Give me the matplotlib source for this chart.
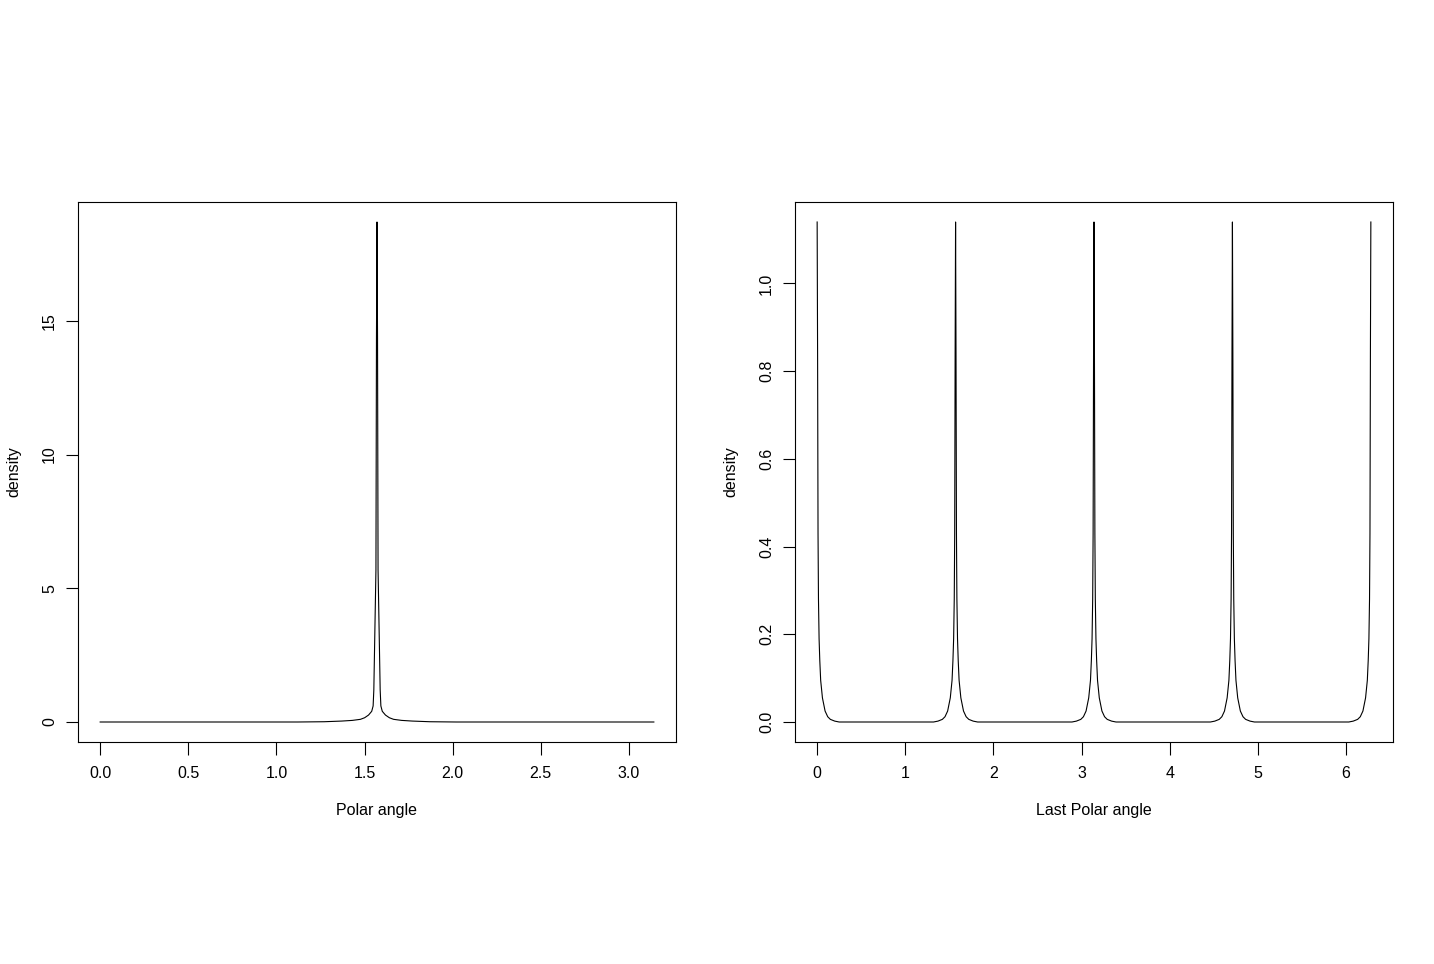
import numpy as np
import matplotlib
matplotlib.use('Agg')
import matplotlib.pyplot as plt

plt.rcParams['font.family'] = ['Liberation Sans', 'DejaVu Sans']

# left panel: one sharp peak at pi/2, shape read as offsets from the peak
left_center = np.pi / 2
left_offsets = [0, 0.003, 0.006, 0.014, 0.018, 0.022, 0.03, 0.048, 0.07, 0.094, 0.14, 0.2, 0.3, 0.45, np.pi / 2]
left_heights = [18.7, 14.4, 5.7, 2.7, 1.2, 0.6, 0.4, 0.26, 0.16, 0.1, 0.06, 0.035, 0.01, 0.0, 0.0]

# right panel: peaks at multiples of pi/2
right_centers = [0, np.pi / 2, np.pi, 3 * np.pi / 2, 2 * np.pi]
right_offsets = [0, 0.005, 0.01, 0.015, 0.022, 0.03, 0.04, 0.06, 0.09, 0.12, 0.15, 0.2, 0.25, np.pi / 4]
right_heights = [1.14, 0.84, 0.43, 0.28, 0.19, 0.14, 0.095, 0.055, 0.025, 0.012, 0.006, 0.002, 0.0, 0.0]

left_xticks = [0.0, 0.5, 1.0, 1.5, 2.0, 2.5, 3.0]
left_yticks = [0, 5, 10, 15]
right_xticks = [0, 1, 2, 3, 4, 5, 6]
right_yticks = [0.0, 0.2, 0.4, 0.6, 0.8, 1.0]


def peak(center, offsets, heights, lo, hi):
    off = np.array(offsets)
    h = np.array(heights)
    x = np.concatenate([center - off[::-1], center + off[1:]])
    y = np.concatenate([h[::-1], h[1:]])
    keep = (x >= lo - 1e-9) & (x <= hi + 1e-9)
    return x[keep], y[keep]


lx, ly = peak(left_center, left_offsets, left_heights, 0, np.pi)

rx, ry = [], []
for c in right_centers:
    px, py = peak(c, right_offsets, right_heights, 0, 2 * np.pi)
    rx.append(px)
    ry.append(py)
rx = np.concatenate(rx)
ry = np.concatenate(ry)
order = np.argsort(rx, kind='stable')
rx, ry = rx[order], ry[order]

fig = plt.figure(figsize=(14.34, 9.64), dpi=100)
ax1 = fig.add_axes([78 / 1434, 1 - 742 / 964, 598 / 1434, 540 / 964])
ax2 = fig.add_axes([795 / 1434, 1 - 742 / 964, 598 / 1434, 540 / 964])

fs = 11.5


def style(ax, x, y, xticks, yticks, xlabels, ylabels, xlabel):
    ax.plot(x, y, color='black', lw=0.8)
    xr = x.max() - x.min()
    ax.set_xlim(x.min() - 0.04 * xr, x.max() + 0.04 * xr)
    yr = y.max() - y.min()
    ax.set_ylim(y.min() - 0.04 * yr, y.max() + 0.04 * yr)
    ax.set_xticks(xticks)
    ax.set_xticklabels(xlabels, fontsize=fs)
    ax.set_yticks(yticks)
    ax.set_yticklabels(ylabels, fontsize=fs, rotation=90, va='center')
    ax.tick_params(direction='out', length=9, width=0.8)
    ax.tick_params(axis='x', pad=8)
    ax.tick_params(axis='y', pad=6)
    for s in ax.spines.values():
        s.set_linewidth(0.8)
    ax.set_xlabel(xlabel, fontsize=fs, va='center')
    ax.xaxis.set_label_coords(0.5, -68 / 540)
    ax.set_ylabel('density', fontsize=fs, va='center')
    ax.yaxis.set_label_coords(-64 / 598, 0.5)


style(ax1, lx, ly, left_xticks, left_yticks,
      ['%.1f' % v for v in left_xticks], [str(v) for v in left_yticks], 'Polar angle')
style(ax2, rx, ry, right_xticks, right_yticks,
      [str(v) for v in right_xticks], ['%.1f' % v for v in right_yticks], 'Last Polar angle')

fig.savefig('out.png', dpi=100)
